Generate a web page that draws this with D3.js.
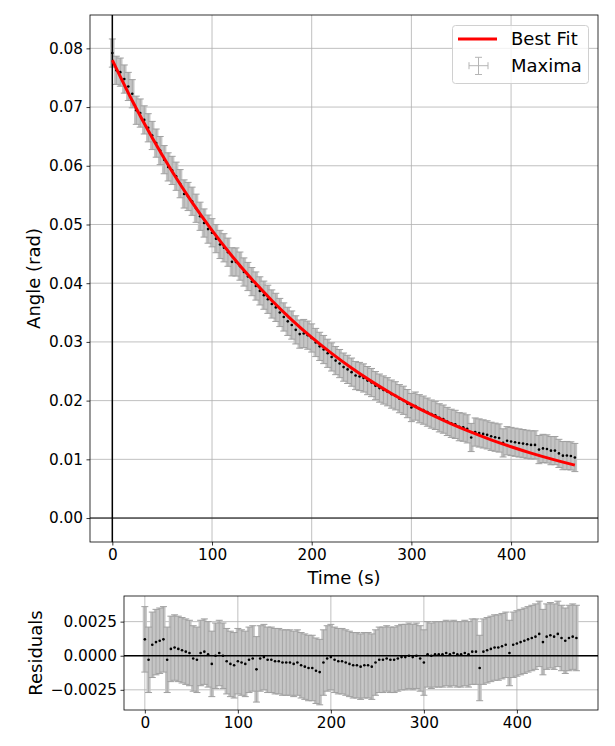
<!DOCTYPE html>
<html><head><meta charset="utf-8">
<script src="https://cdn.jsdelivr.net/npm/d3@7"></script>
<style>
body{margin:0;background:#fff}
svg{display:block}
text{font-family:"DejaVu Sans",sans-serif;fill:#000}
</style>
</head><body>
<svg id="c" width="615" height="746"></svg>
<script>
// ---------------- DATA ----------------
const times = [0,4,8,12,16,20,24,28,32,36,40,44,48,52,56,60,64,68,72,76,80,84,88,92,96,100,104,108,112,116,
120,124,128,132,136,140,144,148,152,156,160,164,168,172,176,180,184,188,192,196,200,204,208,212,216,220,224,228,232,236,
240,244,248,252,256,260,264,268,272,276,280,284,288,292,296,300,304,308,312,316,320,324,328,332,336,340,344,348,352,356,
360,364,368,372,376,380,384,388,392,396,400,404,408,412,416,420,424,428,432,436,440,444,448,452,456,460,464];

const angles = [0.07920,0.07626,0.07595,0.07477,0.07351,0.07227,0.06946,0.06898,0.06781,0.06647,
0.06516,0.06386,0.06259,0.06104,0.05981,0.05921,0.05822,0.05695,0.05520,0.05477,
0.05396,0.05277,0.05140,0.05025,0.04921,0.04859,0.04759,0.04660,0.04603,0.04528,
0.04364,0.04361,0.04291,0.04191,0.04114,0.04027,0.03952,0.03869,0.03796,0.03726,
0.03646,0.03588,0.03501,0.03425,0.03350,0.03287,0.03205,0.03133,0.03143,0.03115,
0.03067,0.02990,0.02924,0.02870,0.02806,0.02744,0.02682,0.02631,0.02571,0.02532,
0.02485,0.02427,0.02411,0.02386,0.02341,0.02308,0.02255,0.02213,0.02181,0.02151,
0.02111,0.02082,0.02033,0.02006,0.01949,0.01882,0.01907,0.01862,0.01838,0.01804,
0.01771,0.01748,0.01707,0.01685,0.01645,0.01614,0.01595,0.01556,0.01547,0.01519,
0.01372,0.01465,0.01449,0.01433,0.01417,0.01392,0.01377,0.01363,0.01280,0.01317,
0.01304,0.01291,0.01279,0.01268,0.01257,0.01246,0.01246,0.01166,0.01186,0.01177,
0.01148,0.01149,0.01101,0.01063,0.01065,0.01058,0.01031];

const residuals = [0.0012,-0.0003,0.0008,0.0010,0.0011,0.0012,-0.0003,0.0005,0.0006,0.0005,
0.0004,0.0003,0.0002,-0.0002,-0.0003,0.0002,0.0003,0.0001,-0.0006,0.0000,
0.0002,0.0000,-0.0004,-0.0006,-0.0007,-0.0004,-0.0005,-0.0006,-0.0003,-0.0002,
-0.0010,-0.0002,-0.0001,-0.0003,-0.0003,-0.0004,-0.0004,-0.0005,-0.0005,-0.0005,
-0.0006,-0.0005,-0.0007,-0.0008,-0.0009,-0.0009,-0.0011,-0.0012,-0.0005,-0.0002,
-0.0001,-0.0003,-0.0004,-0.0004,-0.0005,-0.0006,-0.0007,-0.0007,-0.0008,-0.0007,
-0.0007,-0.0008,-0.0005,-0.0003,-0.0003,-0.0002,-0.0003,-0.0003,-0.0002,-0.0001,
-0.0001,0.0000,-0.0001,0.0000,-0.0002,-0.0005,0.0001,0.0000,0.0001,0.0001,
0.0001,0.0002,0.0001,0.0002,0.0001,0.0001,0.0002,0.0001,0.0003,0.0003,
-0.0009,0.0003,0.0004,0.0005,0.0006,0.0006,0.0007,0.0008,0.0002,0.0008,
0.0009,0.0010,0.0011,0.0012,0.0013,0.0014,0.0016,0.0010,0.0014,0.0015,
0.0014,0.0016,0.0013,0.0011,0.0013,0.0014,0.0013];

const angleErr = 0.0024;   // rad, vertical error bar half-length
const timeErr = 1.0;       // s, horizontal error bar half-length

const fitTimes = [0,20,40,60,80,100,120,140,160,180,200,220,240,260,280,300,320,340,360,380,400,420,440,460,464];
const fitValues = [0.07800,0.07107,0.06476,0.05901,0.05376,0.04899,0.04464,0.04067,0.03706,0.03377,0.03077,0.02804,
0.02555,0.02328,0.02121,0.01932,0.01761,0.01604,0.01462,0.01332,0.01214,0.01106,0.01008,0.00918,0.00901];

const xTicks = [0,100,200,300,400];
const yTicksMain = [0,0.01,0.02,0.03,0.04,0.05,0.06,0.07,0.08];
const yTicksRes = [-0.0025,0,0.0025];

// ---------------- LAYOUT ----------------
const svg = d3.select("#c");
const xDom = [-22.4, 487.2];
const mainBox = {l:90, r:598, t:15, b:542};
const resBox  = {l:124, r:598, t:596, b:710};

const xM = d3.scaleLinear().domain(xDom).range([mainBox.l, mainBox.r]);
const yM = d3.scaleLinear().domain([-0.00408, 0.08568]).range([mainBox.b, mainBox.t]);
const xR = d3.scaleLinear().domain(xDom).range([resBox.l, resBox.r]);
const yR = d3.scaleLinear().domain([-0.00398, 0.00438]).range([resBox.b, resBox.t]);

const TICK_FS = "15.3px", LABEL_FS = "18px";

function clip(id, box){
  svg.append("clipPath").attr("id", id).append("rect")
    .attr("x", box.l).attr("y", box.t).attr("width", box.r-box.l).attr("height", box.b-box.t);
}
clip("cm", mainBox); clip("cr", resBox);

function grid(box, xs, ys, yt){
  const g = svg.append("g");
  g.selectAll(".gx").data(xTicks).join("line")
    .attr("x1", d=>xs(d)).attr("x2", d=>xs(d)).attr("y1", box.t).attr("y2", box.b)
    .attr("stroke", "#b0b0b0").attr("stroke-width", 0.8);
  g.selectAll(".gy").data(yt).join("line")
    .attr("x1", box.l).attr("x2", box.r).attr("y1", d=>ys(d)).attr("y2", d=>ys(d))
    .attr("stroke", "#b0b0b0").attr("stroke-width", 0.8);
}

function errorbars(clipId, xs, ys, vals){
  const g = svg.append("g").attr("clip-path", `url(#${clipId})`);
  const bw = Math.abs(xs(times[1]) - xs(times[0])) + 0.5;
  g.selectAll(".bw").data(times).join("line")
    .attr("x1", d=>xs(d)).attr("x2", d=>xs(d))
    .attr("y1", (d,i)=>ys(vals[i]-angleErr)).attr("y2", (d,i)=>ys(vals[i]+angleErr))
    .attr("stroke", "#c4c4c4").attr("stroke-width", bw);
  g.selectAll(".bc").data(times).join("line")
    .attr("x1", d=>xs(d)).attr("x2", d=>xs(d))
    .attr("y1", (d,i)=>ys(vals[i]-angleErr)).attr("y2", (d,i)=>ys(vals[i]+angleErr))
    .attr("stroke", "#a6a6a6").attr("stroke-width", 0.9);
  [1,-1].forEach(s=>{
    g.selectAll(".cap"+s).data(times).join("line")
      .attr("x1", d=>xs(d)-3.5).attr("x2", d=>xs(d)+3.5)
      .attr("y1", (d,i)=>ys(vals[i]+s*angleErr)).attr("y2", (d,i)=>ys(vals[i]+s*angleErr))
      .attr("stroke", "#a0a0a0").attr("stroke-width", 1);
  });
  g.selectAll(".xe").data(times).join("line")
    .attr("x1", d=>xs(d-timeErr)).attr("x2", d=>xs(d+timeErr))
    .attr("y1", (d,i)=>ys(vals[i])).attr("y2", (d,i)=>ys(vals[i]))
    .attr("stroke", "#777").attr("stroke-width", 0.9);
  g.selectAll(".pt").data(times).join("circle")
    .attr("cx", d=>xs(d)).attr("cy", (d,i)=>ys(vals[i])).attr("r", 1.3)
    .attr("fill", "#000");
  return g;
}

function axes(box, xs, ys, yt, yfmt){
  const gx = svg.append("g").attr("transform", `translate(0,${box.b})`)
    .call(d3.axisBottom(xs).tickValues(xTicks).tickSize(3.5).tickPadding(3.5).tickFormat(d3.format("d")));
  const gy = svg.append("g").attr("transform", `translate(${box.l},0)`)
    .call(d3.axisLeft(ys).tickValues(yt).tickSize(3.5).tickPadding(3.5).tickFormat(yfmt));
  [gx, gy].forEach(g=>{
    g.select(".domain").remove();
    g.selectAll(".tick line").attr("stroke", "#000").attr("stroke-width", 0.8);
    g.selectAll(".tick text").style("font-size", TICK_FS).attr("font-family", "DejaVu Sans").attr("fill", "#000");
  });
  svg.append("rect").attr("x", box.l).attr("y", box.t)
    .attr("width", box.r-box.l).attr("height", box.b-box.t)
    .attr("fill", "none").attr("stroke", "#000").attr("stroke-width", 0.8);
}

// ---------------- MAIN PLOT ----------------
grid(mainBox, xM, yM, yTicksMain);
errorbars("cm", xM, yM, angles);
const gm = svg.append("g").attr("clip-path", "url(#cm)");
gm.append("line").attr("x1", mainBox.l).attr("x2", mainBox.r).attr("y1", yM(0)).attr("y2", yM(0))
  .attr("stroke", "#000").attr("stroke-width", 1);
gm.append("line").attr("x1", xM(0)).attr("x2", xM(0)).attr("y1", mainBox.t).attr("y2", mainBox.b)
  .attr("stroke", "#000").attr("stroke-width", 1.5);
gm.append("path").datum(fitTimes)
  .attr("d", d3.line().x(d=>xM(d)).y((d,i)=>yM(fitValues[i])).curve(d3.curveMonotoneX))
  .attr("fill", "none").attr("stroke", "#ff0000").attr("stroke-width", 3);
axes(mainBox, xM, yM, yTicksMain, d3.format(".2f"));

svg.append("text").attr("x", (mainBox.l+mainBox.r)/2).attr("y", 583.5)
  .attr("text-anchor", "middle").style("font-size", LABEL_FS).text("Time (s)");
svg.append("text").attr("transform", `translate(40,${(mainBox.t+mainBox.b)/2}) rotate(-90)`)
  .attr("text-anchor", "middle").style("font-size", LABEL_FS).text("Angle (rad)");

// legend
const lg = svg.append("g");
lg.append("rect").attr("x", 452.5).attr("y", 25.5).attr("width", 136).attr("height", 58).attr("rx", 3)
  .attr("fill", "#fff").attr("fill-opacity", 0.8).attr("stroke", "#d0d0d0").attr("stroke-width", 1);
lg.append("line").attr("x1", 458).attr("x2", 497).attr("y1", 39).attr("y2", 39)
  .attr("stroke", "#ff0000").attr("stroke-width", 3);
lg.append("text").attr("x", 511).attr("y", 39).attr("dy", "0.36em").style("font-size", LABEL_FS).text("Best Fit");
const mc = "#b5b5b5";
lg.append("line").attr("x1", 469).attr("x2", 488).attr("y1", 65.7).attr("y2", 65.7).attr("stroke", mc);
lg.append("line").attr("x1", 478.5).attr("x2", 478.5).attr("y1", 57.3).attr("y2", 74.5).attr("stroke", mc);
lg.append("line").attr("x1", 475).attr("x2", 482).attr("y1", 57.3).attr("y2", 57.3).attr("stroke", mc);
lg.append("line").attr("x1", 475).attr("x2", 482).attr("y1", 74.5).attr("y2", 74.5).attr("stroke", mc);
lg.append("line").attr("x1", 469).attr("x2", 469).attr("y1", 62.2).attr("y2", 69.2).attr("stroke", mc);
lg.append("line").attr("x1", 488).attr("x2", 488).attr("y1", 62.2).attr("y2", 69.2).attr("stroke", mc);
lg.append("text").attr("x", 511).attr("y", 66).attr("dy", "0.36em").style("font-size", LABEL_FS).text("Maxima");

// ---------------- RESIDUAL PLOT ----------------
grid(resBox, xR, yR, yTicksRes);
errorbars("cr", xR, yR, residuals);
svg.append("g").attr("clip-path", "url(#cr)").append("line")
  .attr("x1", resBox.l).attr("x2", resBox.r).attr("y1", yR(0)).attr("y2", yR(0))
  .attr("stroke", "#000").attr("stroke-width", 1.5);
axes(resBox, xR, yR, yTicksRes, d3.format(".4f"));
svg.append("text").attr("transform", `translate(42,${(resBox.t+resBox.b)/2}) rotate(-90)`)
  .attr("text-anchor", "middle").style("font-size", LABEL_FS).text("Residuals");
</script>
</body></html>
